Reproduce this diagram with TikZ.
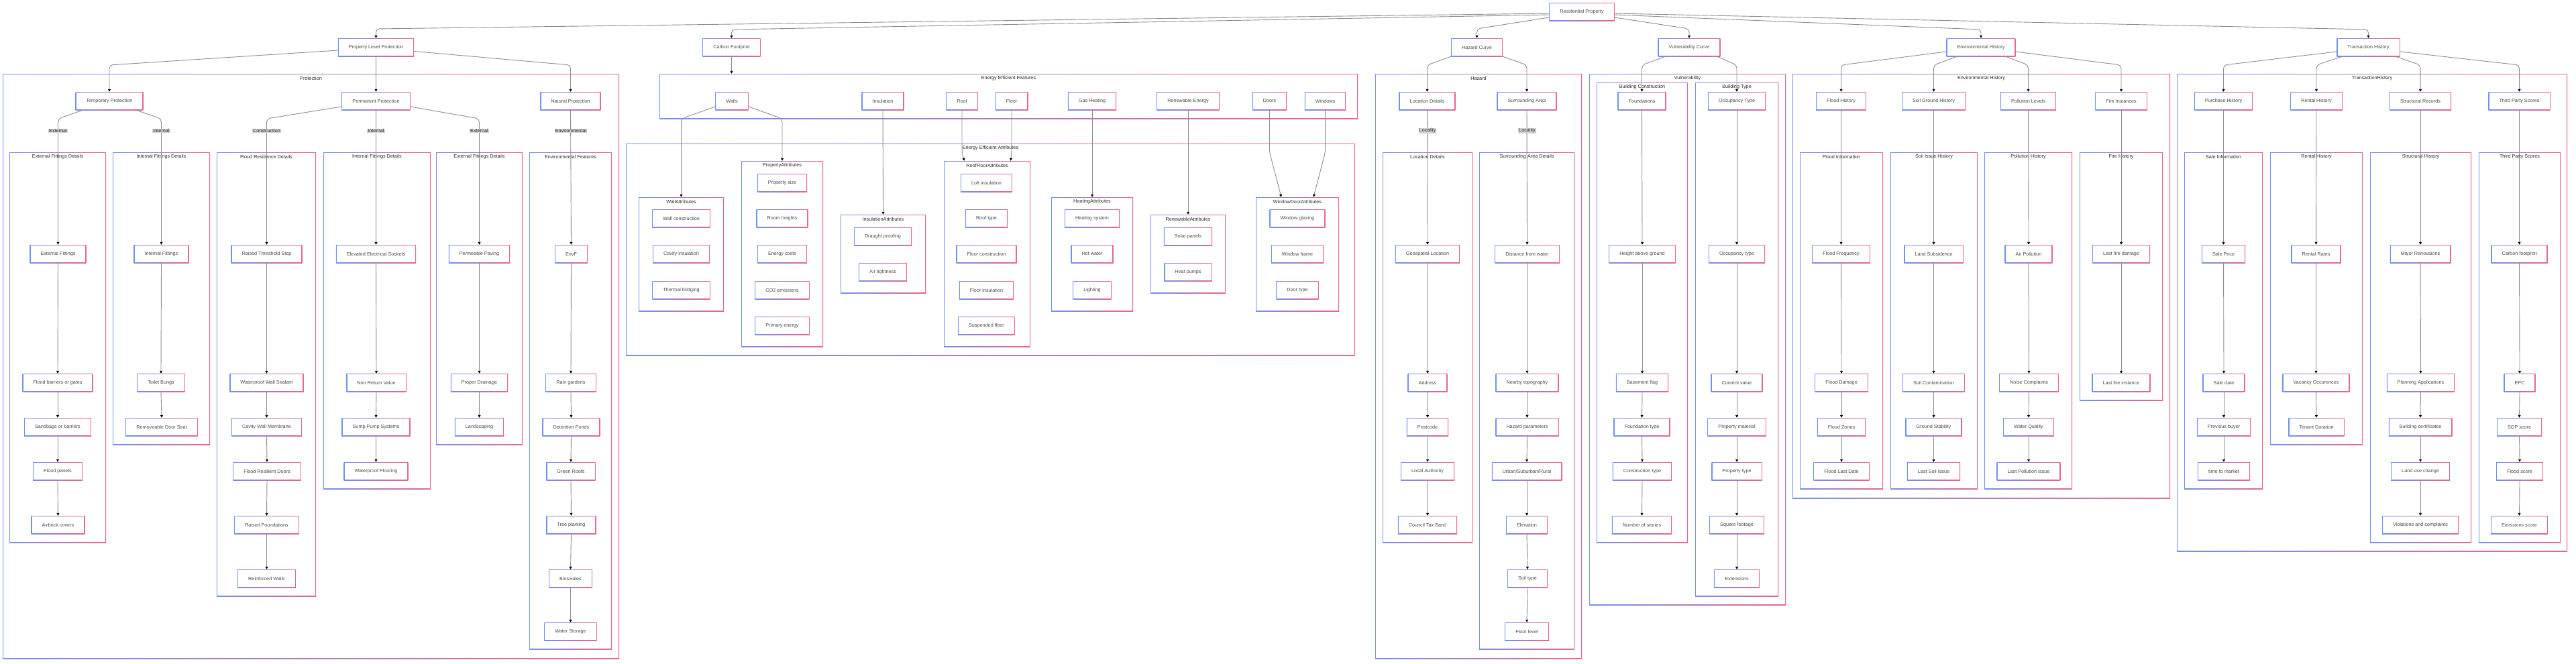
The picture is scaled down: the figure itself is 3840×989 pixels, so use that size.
\documentclass[tikz,border=0pt]{standalone}
\usepackage{fontspec}
\setmainfont{Liberation Sans}
\usetikzlibrary{arrows.meta}
\definecolor{cB}{HTML}{7390EC}
\definecolor{cP}{HTML}{E8668F}
\definecolor{cText}{HTML}{4A4A4A}
\definecolor{cTitle}{HTML}{2A2A2A}
\definecolor{cEdge}{HTML}{8C8C8C}
\definecolor{cLab}{HTML}{D2D2D2}
\newcommand{\nfont}{\fontsize{7.25}{8.5}\selectfont}
\newcommand{\gborder}{%
  \shade[left color=cB,right color=cP] (path picture bounding box.south west) rectangle (path picture bounding box.north east);
  \fill[white] ([xshift=1.05pt,yshift=1.05pt]path picture bounding box.south west) rectangle ([xshift=-1.05pt,yshift=-1.05pt]path picture bounding box.north east);}
\tikzset{
  nd/.style={rectangle, inner xsep=16pt, inner ysep=0pt, minimum height=27pt, font=\nfont, text=cText, path picture={\gborder}},
  cl/.style={rectangle, inner sep=0pt, path picture={\gborder}},
  ctitle/.style={inner sep=0pt, font=\nfont, text=cTitle},
  ed/.style={draw=cEdge, line width=0.9pt, rounded corners=5pt, -{Triangle[length=4pt,width=4pt,color=black]}},
  lab/.style={fill=cLab, inner xsep=1pt, inner ysep=0.8pt, font=\nfont, text=cTitle}
}
\newcommand{\clus}[6]{%
  \node[cl, minimum width={#4-#2}, minimum height={#5-#3}] (#1) at ({(#2+#4)/2},{(#3+#5)/2}) {};
  \node[ctitle] (#1t) at ({(#2+#4)/2},{#3+6.5}) {#6};}
\begin{document}
\begin{tikzpicture}[x=1pt,y=-1pt]
\fill[white] (0,0) rectangle (3840,989);
\useasboundingbox (0,0) rectangle (3840,989);
% clusters
\clus{cprot}{4}{110}{923}{982}{Protection}
\clus{cefd}{14}{227}{158}{809}{External Fittings Details}
\clus{cifd}{168}{227}{313}{663}{Internal Fittings Details}
\clus{cfrd}{323}{227}{471}{889}{Flood Resilience Details}
\clus{cifd2}{482}{227}{642}{729}{Internal Fittings Details}
\clus{cefd2}{650}{227}{779}{663}{External Fittings Details}
\clus{cenv}{789}{227}{912}{968}{Environmental Features}
\clus{ceef}{983}{110}{2024}{177}{Energy Efficient Features}
\clus{ceea}{933}{214}{2020}{530}{Energy Efficient Attributes}
\clus{cwall}{952}{294}{1079}{464}{WallAttributes}
\clus{cprop}{1105}{240}{1227}{517}{PropertyAttributes}
\clus{cins}{1253}{320}{1380}{437}{InsulationAttributes}
\clus{croof}{1407}{240}{1536}{517}{RoofFloorAttributes}
\clus{cheat}{1567}{294}{1689}{464}{HeatingAttributes}
\clus{cren}{1715}{320}{1827}{437}{RenewableAttributes}
\clus{cwda}{1872}{294}{1996}{464}{WindowDoorAttributes}
\clus{chaz}{2050}{110}{2358}{982}{Hazard}
\clus{cloc}{2061}{227}{2195}{809}{Location Details}
\clus{csur}{2205}{227}{2347}{968}{Surrounding Area Details}
\clus{cvul}{2369}{110}{2662}{902}{Vulnerability}
\clus{cbc}{2380}{123}{2516}{809}{Building Construction}
\clus{cbt}{2527}{123}{2651}{889}{Building Type}
\clus{ceh}{2672}{110}{3235}{743}{Environmental History}
\clus{cfi}{2683}{227}{2807}{729}{Flood Information}
\clus{csih}{2818}{227}{2948}{729}{Soil Issue History}
\clus{cph}{2958}{227}{3089}{729}{Pollution History}
\clus{cfh}{3100}{227}{3224}{597}{Fire History}
\clus{cth}{3245}{110}{3827}{822}{TransactionHistory}
\clus{csi}{3256}{227}{3373}{729}{Sale Information}
\clus{crh}{3384}{227}{3522}{663}{Rental History}
\clus{csh}{3533}{227}{3684}{809}{Structural History}
\clus{ctps}{3695}{227}{3817}{809}{Third Party Scores}
% top nodes
\node[nd] (res) at (2358,17.5) {Residential Property};
\node[nd] (plp) at (560.5,70.5) {Property Level Protection};
\node[nd] (cf) at (1090.5,70.5) {Carbon Footprint};
\node[nd] (hc) at (2201.5,70.5) {Hazard Curve};
\node[nd] (vc) at (2518,70.5) {Vulnerability Curve};
\node[nd] (eh) at (2953,70.5) {Environmental History};
\node[nd] (th) at (3530.5,70.5) {Transaction History};
% row C
\node[nd] (tp) at (163,150.5) {Temporary Protection};
\node[nd] (pp) at (560.5,150.5) {Permanent Protection};
\node[nd] (np) at (850.5,150.5) {Natural Protection};
\node[nd] (walls) at (1091,150.5) {Walls};
\node[nd] (ins) at (1316,150.5) {Insulation};
\node[nd] (roof) at (1434,150.5) {Roof};
\node[nd] (floor) at (1508,150.5) {Floor};
\node[nd] (gas) at (1628,150.5) {Gas Heating};
\node[nd] (ren) at (1771,150.5) {Renewable Energy};
\node[nd] (doors) at (1892.5,150.5) {Doors};
\node[nd] (windows) at (1975.5,150.5) {Windows};
\node[nd] (locd) at (2127.5,150.5) {Location Details};
\node[nd] (sura) at (2276,150.5) {Surrounding Area};
\node[nd] (found) at (2447.5,150.5) {Foundations};
\node[nd] (occ) at (2589,150.5) {Occupancy Type};
\node[nd] (fh) at (2744.5,150.5) {Flood History};
\node[nd] (sgh) at (2882.5,150.5) {Soil Ground History};
\node[nd] (pol) at (3023.5,150.5) {Pollution Levels};
\node[nd] (fire) at (3162,150.5) {Fire Instances};
\node[nd] (ph) at (3314.5,150.5) {Purchase History};
\node[nd] (rh) at (3453,150.5) {Rental History};
\node[nd] (sr) at (3608,150.5) {Structural Records};
\node[nd] (tps) at (3755.5,150.5) {Third Party Scores};
% row D
\node[nd] (ef) at (86.5,378.5) {External Fittings};
\node[nd] (inf) at (240.5,378.5) {Internal Fittings};
\node[nd] (rts) at (397.5,378.5) {Raised Threshold Step};
\node[nd] (ees) at (560.5,378.5) {Elevated Electrical Sockets};
\node[nd] (pav) at (714.5,378.5) {Permeable Paving};
\node[nd] (envf) at (851.5,378.5) {EnvF};
\node[nd] (geo) at (2128,378.5) {Geospatial Location};
\node[nd] (dfw) at (2276.5,378.5) {Distance from water};
\node[nd] (hag) at (2448,378.5) {Height above ground};
\node[nd] (occ2) at (2589,378.5) {Occupancy type};
\node[nd] (ff) at (2744.5,378.5) {Flood Frequency};
\node[nd] (ls) at (2882.5,378.5) {Land Subsidence};
\node[nd] (ap) at (3024,378.5) {Air Pollution};
\node[nd] (lfd) at (3162,378.5) {Last fire damage};
\node[nd] (sp) at (3314.5,378.5) {Sale Price};
\node[nd] (rr) at (3452.5,378.5) {Rental Rates};
\node[nd] (mr) at (3608,378.5) {Major Renovaions};
\node[nd] (cfp) at (3755.5,378.5) {Carbon footprint};
% row E
\node[nd] (fbg) at (86,570.5) {Flood barriers or gates};
\node[nd] (tb) at (240,570.5) {Toilet Bungs};
\node[nd] (wws) at (397.5,570.5) {Waterproof Wall Sealant};
\node[nd] (nrv) at (561,570.5) {Non Return Value};
\node[nd] (pd) at (714.5,570.5) {Proper Drainage};
\node[nd] (rg) at (851,570.5) {Rain gardens};
\node[nd] (addr) at (2128,570.5) {Address};
\node[nd] (ntop) at (2276.5,570.5) {Nearby topography};
\node[nd] (bf) at (2448,570.5) {Basement flag};
\node[nd] (cv) at (2589,570.5) {Content value};
\node[nd] (fd) at (2745,570.5) {Flood Damage};
\node[nd] (sc) at (2882.5,570.5) {Soil Contamination};
\node[nd] (nc) at (3024.5,570.5) {Noise Complaints};
\node[nd] (lfi) at (3162,570.5) {Last fire instance};
\node[nd] (sd) at (3315,570.5) {Sale date};
\node[nd] (vo) at (3452.5,570.5) {Vacancy Occurences};
\node[nd] (pa) at (3608.5,570.5) {Planning Applications};
\node[nd] (epc) at (3756,570.5) {EPC};
% row F
\node[nd] (sbb) at (86,636.5) {Sandbags or barriers};
\node[nd] (rds) at (241,636.5) {Removeable Door Seat};
\node[nd] (cwm) at (397.5,636.5) {Cavity Wall Membrane};
\node[nd] (sps) at (560.5,636.5) {Sump Pump Systems};
\node[nd] (land) at (714.5,636.5) {Landscaping};
\node[nd] (dp) at (851.5,636.5) {Detention Ponds};
\node[nd] (pc) at (2128,636.5) {Postcode};
\node[nd] (hp) at (2276.5,636.5) {Hazard parameters};
\node[nd] (ft) at (2447.5,636.5) {Foundation type};
\node[nd] (pm) at (2589,636.5) {Property material};
\node[nd] (fz) at (2745,636.5) {Flood Zones};
\node[nd] (gs) at (2882.5,636.5) {Ground Stability};
\node[nd] (wq) at (3024,636.5) {Water Quality};
\node[nd] (pb) at (3315,636.5) {Previous buyer};
\node[nd] (td) at (3453,636.5) {Tenant Duration};
\node[nd] (bcert) at (3608,636.5) {Building certificates};
\node[nd] (sop) at (3755.5,636.5) {SOP score};
% row G
\node[nd] (fp) at (86,702.5) {Flood panels};
\node[nd] (frd) at (398,702.5) {Flood Resilient Doors};
\node[nd] (wf) at (560.5,702.5) {Waterproof Flooring};
\node[nd] (gr) at (851,702.5) {Green Roofs};
\node[nd] (la) at (2128,702.5) {Local Authority};
\node[nd] (usr) at (2276,702.5) {Urban/Suburban/Rural};
\node[nd] (ct) at (2448,702.5) {Construction type};
\node[nd] (pt) at (2589,702.5) {Property type};
\node[nd] (fld) at (2745,702.5) {Flood Last Date};
\node[nd] (lsi) at (2882.5,702.5) {Last Soil Issue};
\node[nd] (lpi) at (3024,702.5) {Last Pollution Issue};
\node[nd] (ttm) at (3315,702.5) {time to market};
\node[nd] (luc) at (3608,702.5) {Land use change};
\node[nd] (fs) at (3756,702.5) {Flood score};
% row H
\node[nd] (ac) at (86.5,782.5) {Airbrick covers};
\node[nd] (rf) at (397.5,782.5) {Raised Foundations};
\node[nd] (tpl) at (851.5,782.5) {Tree planting};
\node[nd] (ctb) at (2128,782.5) {Council Tax Band};
\node[nd] (elev) at (2276,782.5) {Elevation};
\node[nd] (nos) at (2447.5,782.5) {Number of stories};
\node[nd] (sqf) at (2589,782.5) {Square footage};
\node[nd] (vac) at (3608,782.5) {Violations and complaints};
\node[nd] (es) at (3755.5,782.5) {Emissions score};
% row I, J
\node[nd] (rw) at (397.5,862.5) {Reinforced Walls};
\node[nd] (bio) at (850.5,862.5) {Bioswales};
\node[nd] (st) at (2277,862.5) {Soil type};
\node[nd] (ext) at (2589,862.5) {Extensions};
\node[nd] (ws) at (850.5,941.5) {Water Storage};
\node[nd] (fl) at (2276,941.5) {Floor level};
% attribute nodes
\node[nd] (wc) at (1015.5,325.5) {Wall construction};
\node[nd] (ci) at (1015.5,378.5) {Cavity insulation};
\node[nd] (tbr) at (1015.5,432.5) {Thermal bridging};
\node[nd] (ps) at (1166,272.5) {Property size};
\node[nd] (rhgt) at (1166,325.5) {Room heights};
\node[nd] (ec) at (1166,378.5) {Energy costs};
\node[nd] (co2) at (1166,432.5) {CO2 emissions};
\node[nd] (pe) at (1166,485.5) {Primary energy};
\node[nd] (dpr) at (1316,352.5) {Draught proofing};
\node[nd] (at) at (1316,405.5) {Air tightness};
\node[nd] (li) at (1470.5,272.5) {Loft insulation};
\node[nd] (rt) at (1470.5,325.5) {Roof type};
\node[nd] (fc) at (1470.5,378.5) {Floor construction};
\node[nd] (fi) at (1470.5,432.5) {Floor insulation};
\node[nd] (sfl) at (1470.5,485.5) {Suspended floor};
\node[nd] (hs) at (1628,325.5) {Heating system};
\node[nd] (hw) at (1628,378.5) {Hot water};
\node[nd] (lt) at (1628,432.5) {Lighting};
\node[nd] (spn) at (1771,352.5) {Solar panels};
\node[nd] (hpm) at (1771,405.5) {Heat pumps};
\node[nd] (wg) at (1934,325.5) {Window glazing};
\node[nd] (wfr) at (1934,378.5) {Window frame};
\node[nd] (dt) at (1934,432.5) {Door type};
% top-level edges
\draw[ed] ([yshift=-2.5pt]res.west) -- (560.5,43) -- (plp.north);
\draw[ed] ([yshift=-4.5pt]res.west) -- (1090.5,44) -- (cf.north);
\draw[ed] ([yshift=-8.5pt]res.west) -- (2201.5,43) -- (hc.north);
\draw[ed] ([yshift=-8.5pt]res.east) -- (2518,43) -- (vc.north);
\draw[ed] ([yshift=-4.5pt]res.east) -- (2953,44) -- (eh.north);
\draw[ed] ([yshift=-2.5pt]res.east) -- (3530.5,44) -- (th.north);
% protection
\draw[ed] ([yshift=-4.5pt]plp.west) -- (163,97) -- (tp.north);
\draw[ed] (plp.south) -- (pp.north);
\draw[ed] ([yshift=-6pt]plp.east) -- (850.5,97) -- (np.north);
\draw[ed] ([xshift=11pt]tp.south west) -- (86.5,177) -- (ef.north);
\draw[ed] ([xshift=-11pt]tp.south east) -- (240.5,177) -- (inf.north);
\draw[ed] ([yshift=-8.5pt]pp.west) -- (397.5,177) -- (rts.north);
\draw[ed] (pp.south) -- (ees.north);
\draw[ed] ([yshift=-8.5pt]pp.east) -- (714.5,177) -- (pav.north);
\draw[ed] (np.south) -- (envf.north);
% energy
\draw[ed] (cf.south) -- (cf.south |- ceef.north);
\draw[ed] ([yshift=-8.5pt]walls.west) -- (1015.5,177) -- (cwall.north);
\draw[ed] ([yshift=-8.5pt]walls.east) -- (1166,177) -- (cprop.north);
\draw[ed] (ins.south) -- (cins.north);
\draw[ed] (roof.south) -- (1434,227) -- ([xshift=-34pt]croof.north);
\draw[ed] (floor.south) -- (1508,227) -- ([xshift=35pt]croof.north);
\draw[ed] (gas.south) -- (cheat.north);
\draw[ed] (ren.south) -- (cren.north);
\draw[ed] (doors.south) -- (1892.5,227) -- ([xshift=-24pt]cwda.north);
\draw[ed] (windows.south) -- (1975.5,227) -- ([xshift=24pt]cwda.north);
% hazard
\draw[ed] (hc.south west) -- (2127.5,97) -- (locd.north);
\draw[ed] (hc.south east) -- (2276,97) -- (sura.north);
\draw[ed] (locd.south) -- (geo.north);
\draw[ed] (sura.south) -- (dfw.north);
% vulnerability
\draw[ed] ([xshift=11pt]vc.south west) -- (2447.5,97) -- (found.north);
\draw[ed] ([xshift=-5pt]vc.south east) -- (2589,97) -- (occ.north);
% environmental history
\draw[ed] ([yshift=-6.5pt]eh.west) -- (2744.5,97) -- (fh.north);
\draw[ed] ([xshift=16pt]eh.south west) -- (2882.5,97) -- (sgh.north);
\draw[ed] ([xshift=-15pt]eh.south east) -- (3023.5,97) -- (pol.north);
\draw[ed] ([yshift=-6.5pt]eh.east) -- (3162,97) -- (fire.north);
% transaction
\draw[ed] ([yshift=-6.5pt]th.west) -- (3314.5,97) -- (ph.north);
\draw[ed] ([xshift=8pt]th.south west) -- (3453,97) -- (rh.north);
\draw[ed] ([xshift=-7pt]th.south east) -- (3608,97) -- (sr.north);
\draw[ed] ([yshift=-6.5pt]th.east) -- (3755.5,97) -- (tps.north);
% chains
\foreach \a/\b in {ef/fbg, fbg/sbb, sbb/fp, fp/ac, inf/tb, tb/rds,
  rts/wws, wws/cwm, cwm/frd, frd/rf, rf/rw, ees/nrv, nrv/sps, sps/wf,
  pav/pd, pd/land, envf/rg, rg/dp, dp/gr, gr/tpl, tpl/bio, bio/ws,
  geo/addr, addr/pc, pc/la, la/ctb, dfw/ntop, ntop/hp, hp/usr, usr/elev, elev/st, st/fl,
  found/hag, hag/bf, bf/ft, ft/ct, ct/nos, occ/occ2, occ2/cv, cv/pm, pm/pt, pt/sqf, sqf/ext,
  fh/ff, ff/fd, fd/fz, fz/fld, sgh/ls, ls/sc, sc/gs, gs/lsi, pol/ap, ap/nc, nc/wq, wq/lpi,
  fire/lfd, lfd/lfi, ph/sp, sp/sd, sd/pb, pb/ttm, rh/rr, rr/vo, vo/td,
  sr/mr, mr/pa, pa/bcert, bcert/luc, luc/vac, tps/cfp, cfp/epc, epc/sop, sop/fs, fs/es}
  \draw[ed] (\a.south) -- (\b.north);
% edge labels
\node[lab] (l1) at (86.5,195) {External};
\node[lab] (l2) at (240.5,195) {Internal};
\node[lab] (l3) at (397.5,195) {Construction};
\node[lab] (l4) at (560.5,195) {Internal};
\node[lab] (l5) at (714.5,195) {External};
\node[lab] (l6) at (851,195) {Environmental};
\node[lab] (l7) at (2128,195) {Locality};
\node[lab] (l8) at (2276.5,195) {Locality};
\end{tikzpicture}
\end{document}
